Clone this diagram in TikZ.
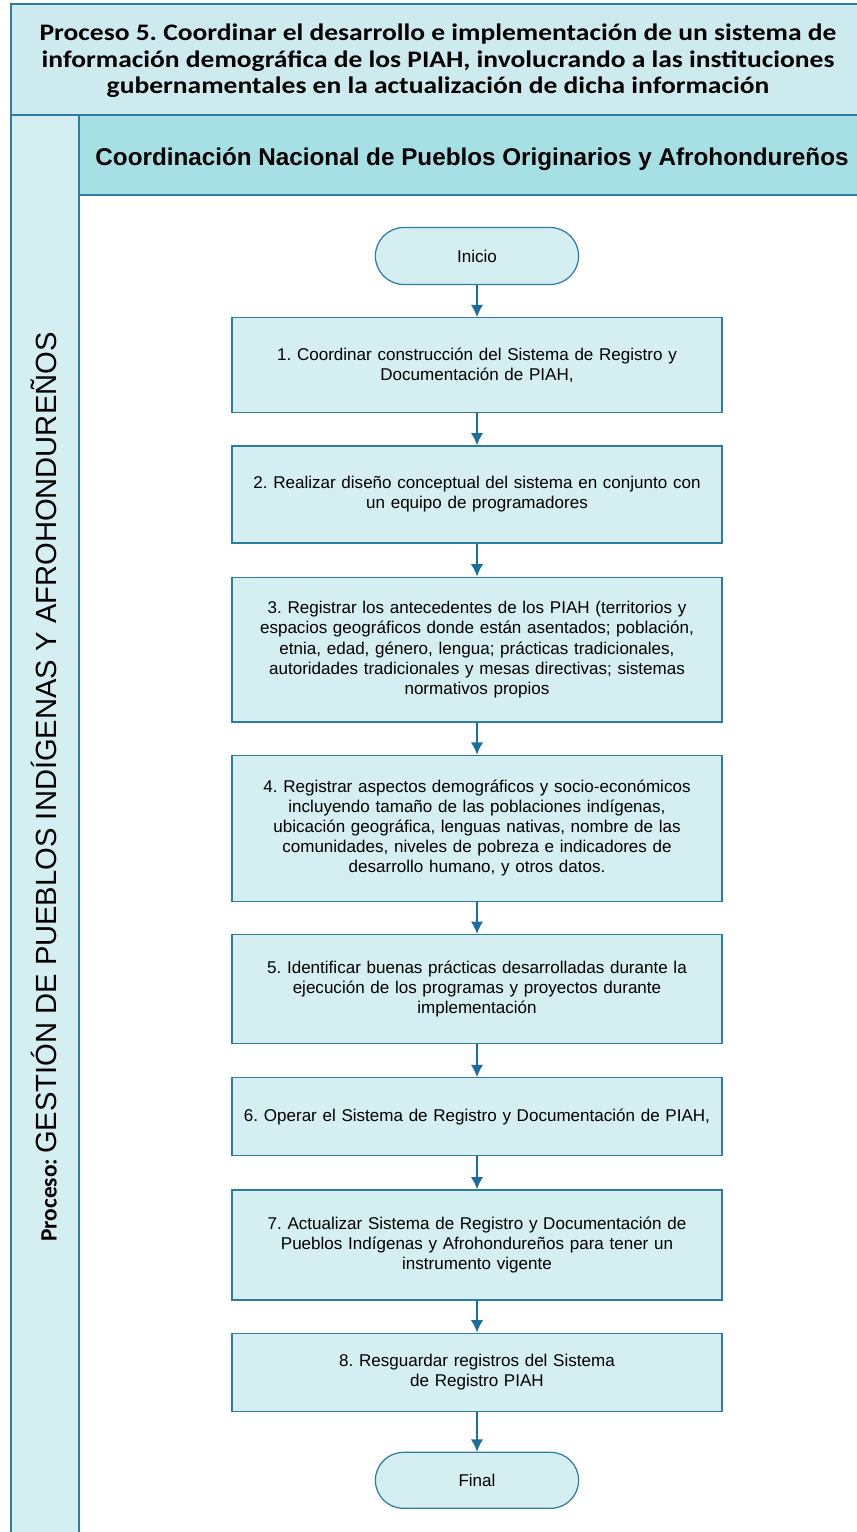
\documentclass[tikz,border=0pt]{standalone}
\usepackage{fontspec}
\setmainfont{Liberation Sans}
\newfontfamily\calfont{Carlito}
\newfontfamily\titlefont[FakeStretch=1.16]{Carlito}
\usepackage{tikz}
\usetikzlibrary{shapes,arrows,arrows.meta,positioning}
\definecolor{titlefill}{RGB}{205,235,238}
\definecolor{headfill}{RGB}{166,223,228}
\definecolor{boxfill}{RGB}{213,238,242}
\definecolor{edgeblue}{RGB}{46,125,160}
\definecolor{arrowblue}{RGB}{27,110,155}
\frenchspacing

\begin{document}
\begin{tikzpicture}[x=0.02cm, y=-0.02cm,
    band/.style={draw=edgeblue, line width=0.8pt},
    proc/.style={rectangle, draw=edgeblue, line width=0.7pt, fill=boxfill, minimum width=9.8cm, text width=9.7cm, align=center, inner sep=0pt, font=\fontsize{9.7}{11.4}\selectfont},
    term/.style={rounded rectangle, draw=edgeblue, line width=0.7pt, fill=boxfill, minimum width=4.3cm, minimum height=1.14cm, font=\fontsize{9.7}{11.4}\selectfont},
    arr/.style={-{Latex[length=7pt,width=7pt]}, line width=0.9pt, draw=arrowblue}]

    \useasboundingbox (0,0) rectangle (857,1532);
    \clip (0,0) rectangle (857,1532);

    % lanes
    \draw[band, fill=titlefill] (11,4) rectangle (870,115);
    \draw[band, fill=boxfill] (11,115) rectangle (79,1545);
    \draw[band, fill=headfill] (79,115) rectangle (870,195);

    \node[align=center, font=\titlefont\bfseries\fontsize{13.5}{15}\selectfont] (title) at (438,61)
        {Proceso 5. Coordinar el desarrollo e implementación de un sistema de\\
         información demográfica de los PIAH, involucrando a las instituciones\\
         gubernamentales en la actualización de dicha información};
    \node[font=\bfseries\fontsize{13.8}{16}\selectfont] (unit) at (472,159)
        {Coordinación Nacional de Pueblos Originarios y Afrohondureños};
    \node[rotate=90] (lane) at (44,787)
        {{\calfont\bfseries\fontsize{13.3}{15}\selectfont Proceso:}\ \fontsize{16.6}{18}\selectfont GESTIÓN DE PUEBLOS INDÍGENAS Y AFROHONDUREÑOS};

    % flow
    \node[term] (inicio) at (477,256) {Inicio};
    \node[proc, minimum height=1.9cm, below=0.64cm of inicio] (s1)
        {1. Coordinar construcción del Sistema de Registro y\\ Documentación de PIAH,};
    \node[proc, minimum height=1.94cm, below=0.64cm of s1] (s2)
        {2. Realizar diseño conceptual del sistema en conjunto con\\ un equipo de programadores};
    \node[proc, minimum height=2.9cm, below=0.66cm of s2] (s3)
        {3. Registrar los antecedentes de los PIAH (territorios y\\
         espacios geográficos donde están asentados; población,\\
         etnia, edad, género, lengua; prácticas tradicionales,\\
         autoridades tradicionales y mesas directivas; sistemas\\
         normativos propios};
    \node[proc, minimum height=2.92cm, below=0.64cm of s3] (s4)
        {4. Registrar aspectos demográficos y socio-económicos\\
         incluyendo tamaño de las poblaciones indígenas,\\
         ubicación geográfica, lenguas nativas, nombre de las\\
         comunidades, niveles de pobreza e indicadores de\\
         desarrollo humano, y otros datos.};
    \node[proc, minimum height=2.18cm, below=0.64cm of s4] (s5)
        {5. Identificar buenas prácticas desarrolladas durante la\\
         ejecución de los programas y proyectos durante\\
         implementación};
    \node[proc, minimum height=1.56cm, below=0.66cm of s5] (s6)
        {6. Operar el Sistema de Registro y Documentación de PIAH,};
    \node[proc, minimum height=2.2cm, below=0.66cm of s6] (s7)
        {7. Actualizar Sistema de Registro y Documentación de\\
         Pueblos Indígenas y Afrohondureños para tener un\\
         instrumento vigente};
    \node[proc, minimum height=1.56cm, below=0.64cm of s7] (s8)
        {8. Resguardar registros del Sistema\\ de Registro PIAH};
    \node[term, minimum height=1.12cm, below=0.8cm of s8] (final) {Final};

    \draw[arr] (inicio) -- (s1);
    \draw[arr] (s1) -- (s2);
    \draw[arr] (s2) -- (s3);
    \draw[arr] (s3) -- (s4);
    \draw[arr] (s4) -- (s5);
    \draw[arr] (s5) -- (s6);
    \draw[arr] (s6) -- (s7);
    \draw[arr] (s7) -- (s8);
    \draw[arr] (s8) -- (final);
\end{tikzpicture}
\end{document}
